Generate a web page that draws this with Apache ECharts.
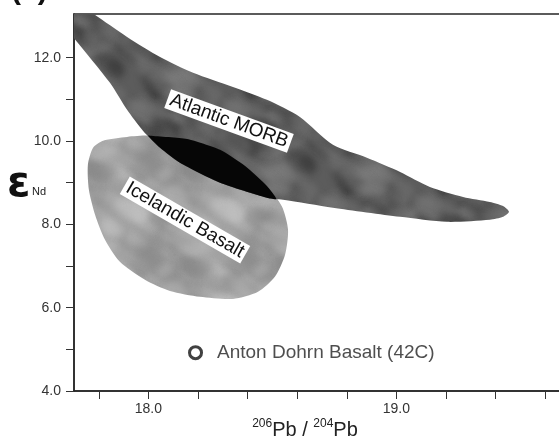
<!DOCTYPE html>
<html>
<head>
<meta charset="utf-8">
<script src="https://cdn.jsdelivr.net/npm/echarts@6/dist/echarts.min.js"></script>
<style>
  html, body { margin: 0; padding: 0; background: #fff; }
  #chart { width: 559px; height: 441px; }
</style>
</head>
<body>
<div id="chart"></div>
<script>
// axis ticks and labels
const xTicks = [17.8, 18.0, 18.2, 18.4, 18.6, 18.8, 19.0, 19.2, 19.4, 19.6];
const xLabels = [18.0, 19.0];
const yTicks = [4, 5, 6, 7, 8, 9, 10, 11, 12];
const yLabels = [4, 6, 8, 10, 12];

// Atlantic MORB field, upper edge then lower edge back
const morbOutline = [
  [17.692, 13.39], [17.777, 13.06], [17.914, 12.50], [18.047, 12.02], [18.180, 11.64],
  [18.341, 11.30], [18.478, 10.99], [18.611, 10.58], [18.744, 9.91], [18.881, 9.60],
  [19.015, 9.26], [19.135, 8.90], [19.269, 8.66], [19.377, 8.54], [19.430, 8.44],
  [19.454, 8.30], [19.430, 8.18], [19.377, 8.11], [19.204, 8.06], [19.015, 8.18],
  [18.744, 8.40], [18.543, 8.59], [18.478, 8.64], [18.289, 9.00], [18.127, 9.48],
  [18.047, 9.84], [17.978, 10.25], [17.914, 10.75], [17.845, 11.40], [17.696, 12.50],
  [17.575, 13.39]
];

// Icelandic basalt field
const icelandOutline = [
  [17.817, 10.01], [17.914, 10.10], [18.006, 10.13], [18.156, 10.05], [18.289, 9.79],
  [18.390, 9.40], [18.478, 8.92], [18.539, 8.42], [18.563, 7.87], [18.551, 7.27],
  [18.510, 6.74], [18.442, 6.38], [18.341, 6.21], [18.208, 6.26], [18.087, 6.40],
  [17.986, 6.67], [17.885, 7.10], [17.825, 7.63], [17.785, 8.23], [17.760, 8.83],
  [17.756, 9.43], [17.777, 9.84]
];

// Anton Dohrn sample
const antonDohrn = [[18.19, 4.92]];

const font = "'Liberation Sans', Arial, sans-serif";

// part of a field that lies inside a convex field (Sutherland-Hodgman)
function clipToConvex (subject, clip) {
  let area = 0;
  for (let i = 0; i < clip.length; i++) {
    const a = clip[i], b = clip[(i + 1) % clip.length];
    area += a[0] * b[1] - b[0] * a[1];
  }
  const sign = area > 0 ? 1 : -1;
  const side = (p, a, b) => sign * ((b[0] - a[0]) * (p[1] - a[1]) - (b[1] - a[1]) * (p[0] - a[0]));
  const cross = (p, q, a, b) => {
    const dp = side(p, a, b), dq = side(q, a, b);
    const t = dp / (dp - dq);
    return [p[0] + t * (q[0] - p[0]), p[1] + t * (q[1] - p[1])];
  };
  let out = subject;
  for (let i = 0; i < clip.length; i++) {
    const a = clip[i], b = clip[(i + 1) % clip.length];
    const input = out;
    out = [];
    for (let j = 0; j < input.length; j++) {
      const p = input[j], q = input[(j + 1) % input.length];
      const pin = side(p, a, b) >= 0, qin = side(q, a, b) >= 0;
      if (qin) {
        if (!pin) out.push(cross(p, q, a, b));
        out.push(q);
      } else if (pin) {
        out.push(cross(p, q, a, b));
      }
    }
  }
  return out;
}

const overlapOutline = clipToConvex(morbOutline, icelandOutline);

// mottled fill, like the scanned shading
function mottle (base, dark, light, seed) {
  const size = 96;
  const c = document.createElement('canvas');
  c.width = c.height = size;
  const g = c.getContext('2d');
  g.fillStyle = base;
  g.fillRect(0, 0, size, size);
  let s = seed;
  const next = () => (s = (s * 16807) % 2147483647) / 2147483647;
  g.filter = 'blur(3px)';
  g.globalAlpha = 0.35;
  for (let i = 0; i < 70; i++) {
    const x = next() * size, y = next() * size, r = 3 + next() * 9;
    g.fillStyle = next() < 0.5 ? dark : light;
    for (const ox of [-size, 0, size]) {
      for (const oy of [-size, 0, size]) {
        g.beginPath();
        g.ellipse(x + ox, y + oy, r * 1.6, r, 0.5, 0, Math.PI * 2);
        g.fill();
      }
    }
  }
  return c;
}

function fieldSeries (name, outline, style, z, smooth) {
  return {
    type: 'custom',
    name: name,
    data: outline,
    z: z,
    silent: true,
    clip: true,
    renderItem: function (params, api) {
      if (params.dataIndex !== 0) return;
      const pts = outline.map(p => api.coord(p));
      return { type: 'polygon', shape: { points: pts, smooth: smooth }, style: style };
    }
  };
}

const chart = echarts.init(document.getElementById('chart'));

chart.setOption({
  backgroundColor: 'transparent',
  animation: false,
  grid: {
    left: 74, top: 14, width: 496, height: 377,
    show: true, borderColor: '#262626', borderWidth: 1.5,
    outerBoundsMode: 'none'
  },
  xAxis: {
    type: 'value', min: 17.7, max: 19.7,
    axisLine: { show: true, lineStyle: { color: '#262626', width: 1.5 } },
    axisTick: { show: true, customValues: xTicks, length: 8, lineStyle: { color: '#333', width: 1 } },
    axisLabel: { customValues: xLabels, formatter: v => v.toFixed(1), fontSize: 14, color: '#333', margin: 11, fontFamily: font },
    splitLine: { show: false }
  },
  yAxis: {
    type: 'value', min: 4, max: 13.05,
    axisLine: { show: true, lineStyle: { color: '#262626', width: 1.5 } },
    axisTick: { show: true, customValues: yTicks, length: 8, lineStyle: { color: '#333', width: 1 } },
    axisLabel: { customValues: yLabels, formatter: v => v.toFixed(1), fontSize: 14, color: '#333', margin: 13, fontFamily: font },
    splitLine: { show: false }
  },
  series: [
    fieldSeries('Icelandic Basalt', icelandOutline,
      { fill: { image: mottle('#a3a3a3', '#878787', '#c2c2c2', 11), repeat: 'repeat' } }, 2, 0.25),
    fieldSeries('Atlantic MORB', morbOutline,
      { fill: { image: mottle('#5c5c5c', '#343434', '#828282', 7), repeat: 'repeat' } }, 3, 0.25),
    fieldSeries('overlap', overlapOutline, { fill: '#060606' }, 4, 0.2),
    {
      type: 'scatter',
      data: antonDohrn,
      z: 10,
      silent: true,
      symbol: 'circle',
      symbolSize: 12,
      itemStyle: { color: '#fff', borderColor: '#111', borderWidth: 3 },
      label: {
        show: true, position: 'right', distance: 14,
        formatter: 'Anton Dohrn Basalt (42C)',
        fontSize: 19, color: '#222', fontFamily: font
      }
    }
  ],
  graphic: [
    {
      type: 'text', x: 229, y: 121, rotation: -20 * Math.PI / 180, z: 100,
      style: {
        text: 'Atlantic MORB', fontSize: 19, fontFamily: font, fill: '#111',
        backgroundColor: '#fff', padding: [1, 3, 0, 3], align: 'center', verticalAlign: 'middle'
      }
    },
    {
      type: 'text', x: 185, y: 220, rotation: -30 * Math.PI / 180, z: 100,
      style: {
        text: 'Icelandic Basalt', fontSize: 19, fontFamily: font, fill: '#111',
        backgroundColor: '#fff', padding: [1, 3, 0, 3], align: 'center', verticalAlign: 'middle'
      }
    },
    {
      type: 'text', x: 7, y: 185, z: 100,
      style: { text: 'ε', fontSize: 42, fontWeight: 'bold', fontFamily: "'DejaVu Sans', sans-serif", fill: '#111', align: 'left', verticalAlign: 'middle' }
    },
    {
      type: 'text', x: 32, y: 192, z: 100,
      style: { text: 'Nd', fontSize: 11, fontFamily: font, fill: '#222', align: 'left', verticalAlign: 'middle' }
    },
    {
      type: 'text', x: 305, y: 429, z: 100,
      style: {
        text: '{s|206}{p|Pb / }{s|204}{p|Pb}',
        fill: '#222', fontFamily: font, align: 'center', verticalAlign: 'middle',
        rich: {
          s: { fontSize: 12, lineHeight: 12, verticalAlign: 'top', fontFamily: font, fill: '#222' },
          p: { fontSize: 20, lineHeight: 22, verticalAlign: 'bottom', fontFamily: font, fill: '#222' }
        }
      }
    },
    {
      type: 'text', x: 11, y: -9, z: 100,
      style: { text: '(c)', fontSize: 30, fontWeight: 'bold', fontFamily: font, fill: '#111', align: 'left', verticalAlign: 'middle' }
    }
  ]
});
</script>
</body>
</html>
